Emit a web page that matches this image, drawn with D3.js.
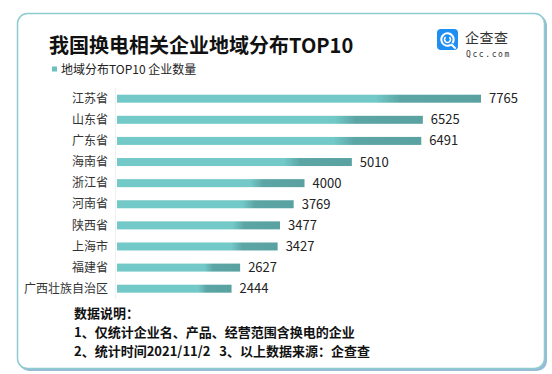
<!DOCTYPE html>
<html>
<head>
<meta charset="utf-8">
<script src="https://cdn.jsdelivr.net/npm/d3@7"></script>
<style>
  body { margin: 0; background: #fff; }
  svg { display: block; font-family: "Noto Sans CJK SC", "Microsoft YaHei", sans-serif; }
</style>
</head>
<body>
<svg id="chart" width="552" height="374"></svg>
<script>
const regions = ["江苏省", "山东省", "广东省", "海南省", "浙江省", "河南省", "陕西省", "上海市", "福建省", "广西壮族自治区"];
const counts = [7765, 6525, 6491, 5010, 4000, 3769, 3477, 3427, 2627, 2444];
const title = "我国换电相关企业地域分布TOP10";
const seriesName = "地域分布TOP10 企业数量";
const noteHead = "数据说明：";
const notes = ["1、仅统计企业名、产品、经营范围含换电的企业", "2、统计时间2021/11/2\u00a0\u00a0\u00a03、以上数据来源：企查查"];

const svg = d3.select("#chart");
const defs = svg.append("defs");

const grad = defs.append("linearGradient").attr("id", "barGrad")
  .attr("x1", 0).attr("x2", 1).attr("y1", 0).attr("y2", 0);
grad.append("stop").attr("offset", 0).attr("stop-color", "#72c9c8");
grad.append("stop").attr("offset", 0.71).attr("stop-color", "#72c9c8");
grad.append("stop").attr("offset", 0.78).attr("stop-color", "#5ca5a5");
grad.append("stop").attr("offset", 1).attr("stop-color", "#5aa2a2");

// card frame
svg.append("rect").attr("x", 19).attr("y", 15).attr("width", 528).attr("height", 356)
  .attr("rx", 10).attr("fill", "#97bbd6");
svg.append("rect").attr("x", 17.5).attr("y", 13.5).attr("width", 527).attr("height", 355)
  .attr("rx", 10).attr("fill", "#fff").attr("stroke", "#8ccbd0").attr("stroke-width", 1.5);

// title
svg.append("text").attr("x", 49).attr("y", 53)
  .attr("font-size", 20).attr("font-weight", 700).attr("fill", "#111")
  .text(title);

// legend
svg.append("rect").attr("x", 52).attr("y", 66.5).attr("width", 5).attr("height", 5).attr("fill", "#6cc0be");
svg.append("text").attr("x", 61).attr("y", 69.5).attr("dy", "0.35em")
  .attr("font-size", 12).attr("fill", "#222").text(seriesName);

// logo
const logo = svg.append("g").attr("transform", "translate(437,29)");
logo.append("rect").attr("width", 21).attr("height", 21).attr("rx", 4).attr("fill", "#1f8ef1");
const ring = d3.arc();
logo.append("path").attr("transform", "translate(10.5,10.5)").attr("fill", "#fff")
  .attr("d", ring({innerRadius: 5.2, outerRadius: 7.2, startAngle: 2.6, endAngle: 2 * Math.PI + 2.2}));
logo.append("path").attr("transform", "translate(10.5,10.5)").attr("fill", "#fff")
  .attr("d", ring({innerRadius: 2.2, outerRadius: 3.8, startAngle: 0.7, endAngle: 2 * Math.PI - 0.7}));
logo.append("path").attr("d", "M14.5,15.5 L18,19").attr("stroke", "#fff").attr("stroke-width", 2).attr("stroke-linecap", "round");
svg.append("text").attr("x", 465).attr("y", 43).attr("font-size", 14).attr("fill", "#333")
  .attr("letter-spacing", 0.5).text("企查查");
svg.append("text").attr("x", 466).attr("y", 57).attr("font-size", 8).attr("fill", "#333")
  .attr("font-family", "DejaVu Sans Mono, monospace").attr("letter-spacing", 1.6).text("Qcc.com");

// bars
const x = d3.scaleLinear().domain([0, 7765]).range([117, 481]);
const y = d3.scalePoint().domain(regions).range([98.7, 288.7]);
const barH = 8;

svg.append("line").attr("x1", 115.5).attr("x2", 115.5).attr("y1", 88).attr("y2", 299)
  .attr("stroke", "#f0f0f0");

const rows = svg.append("g").selectAll("g").data(regions).join("g");
rows.append("rect")
  .attr("x", x(0)).attr("y", d => y(d) - barH / 2)
  .attr("width", (d, i) => x(counts[i]) - x(0)).attr("height", barH)
  .attr("fill", "url(#barGrad)");
rows.append("text")
  .attr("x", 108).attr("y", d => y(d)).attr("dy", "0.35em")
  .attr("text-anchor", "end").attr("font-size", 12).attr("fill", "#333")
  .text(d => d);
rows.append("text")
  .attr("x", (d, i) => x(counts[i]) + 8).attr("y", d => y(d)).attr("dy", "0.35em")
  .attr("font-size", 13).attr("fill", "#222")
  .text((d, i) => counts[i]);

// notes
const noteG = svg.append("g").attr("font-size", 13).attr("font-weight", 700).attr("fill", "#111");
noteG.append("text").attr("x", 74).attr("y", 313).attr("dy", "0.35em").text(noteHead);
noteG.selectAll("text.note").data(notes).join("text").attr("class", "note")
  .attr("x", 74).attr("y", (d, i) => 332 + i * 19).attr("dy", "0.35em").text(d => d);
</script>
</body>
</html>
